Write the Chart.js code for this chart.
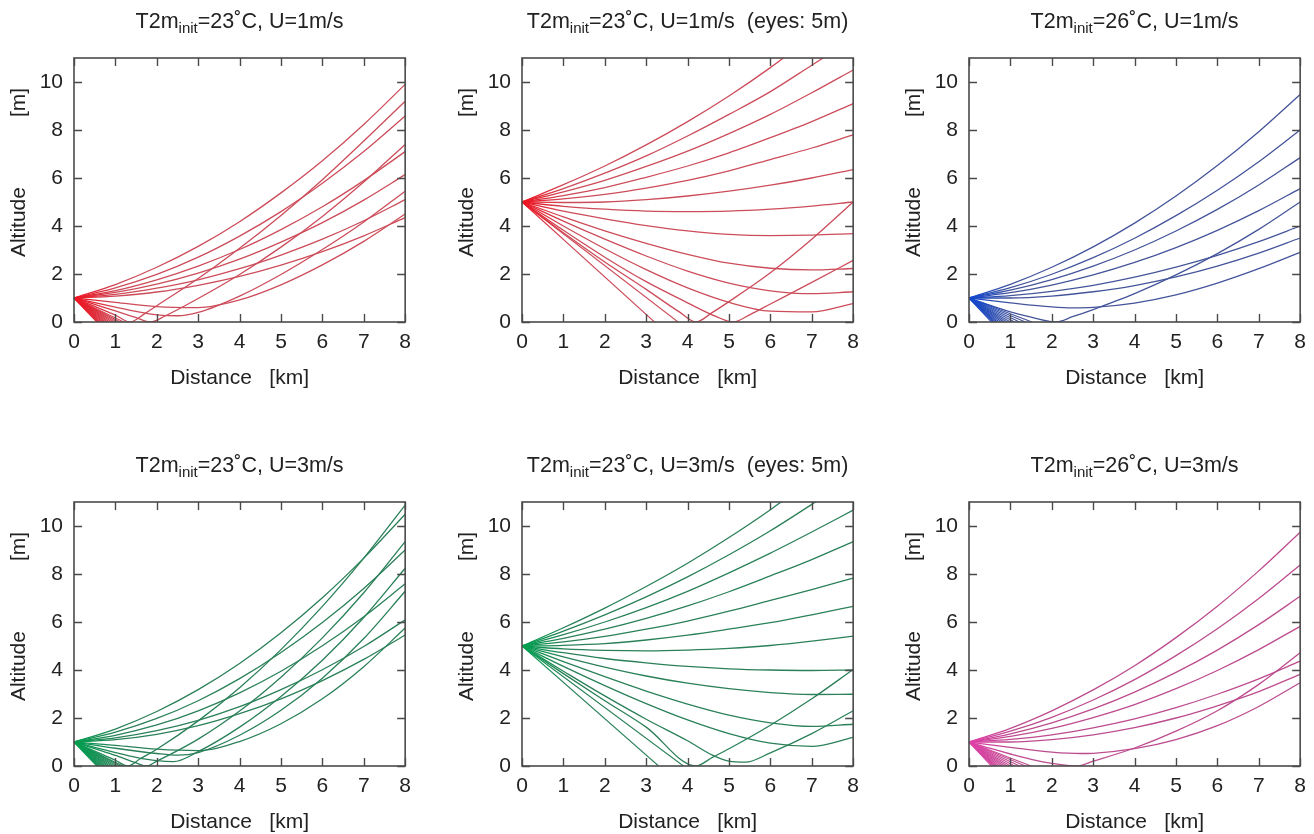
<!DOCTYPE html>
<html>
<head>
<meta charset="utf-8">
<script src="https://cdn.jsdelivr.net/npm/chart.js@4.4.1/dist/chart.umd.min.js"></script>
<style>
  html, body { margin: 0; padding: 0; background: #fff; overflow: hidden; }
  body { width: 1314px; height: 834px; position: relative; }
  canvas { position: absolute; }
</style>
</head>
<body>
<canvas id="p1" width="419" height="392" style="left:0px;top:0px"></canvas>
<canvas id="p2" width="419" height="392" style="left:448px;top:0px"></canvas>
<canvas id="p3" width="419" height="392" style="left:895px;top:0px"></canvas>
<canvas id="p4" width="419" height="392" style="left:0px;top:444px"></canvas>
<canvas id="p5" width="419" height="392" style="left:448px;top:444px"></canvas>
<canvas id="p6" width="419" height="392" style="left:895px;top:444px"></canvas>
<script>
// axis ticks
const xTicks = [0, 1, 2, 3, 4, 5, 6, 7, 8];
const yTicks = [0, 2, 4, 6, 8, 10];

// panel titles: "T2m" + subscript "init" + rest
const titleRest = [
  '=23˚C, U=1m/s',
  '=23˚C, U=1m/s  (eyes: 5m)',
  '=26˚C, U=1m/s',
  '=23˚C, U=3m/s',
  '=23˚C, U=3m/s  (eyes: 5m)',
  '=26˚C, U=3m/s',
];

// eye height of each panel [m]
const eyeHeights = [1, 5, 1, 1, 5, 1];

// rays as [distance km, altitude m]
const rays1 = [
  [[0,1],[1,1.56],[2,2.28],[3,3.15],[4,4.18],[5,5.38],[6,6.72],[7,8.23],[8,9.9]],
  [[0,1],[1,1.42],[2,1.98],[3,2.7],[4,3.58],[5,4.6],[6,5.78],[7,7.1],[8,8.58]],
  [[0,1],[1,1.31],[2,1.76],[3,2.33],[4,3.02],[5,3.85],[6,4.8],[7,5.89],[8,7.1]],
  [[0,1],[1,1.23],[2,1.58],[3,2.04],[4,2.62],[5,3.33],[6,4.14],[7,5.08],[8,6.14]],
  [[0,1],[1,1.15],[2,1.41],[3,1.76],[4,2.22],[5,2.79],[6,3.45],[7,4.22],[8,5.1]],
  [[0,1],[1,1.08],[2,1.25],[3,1.53],[4,1.9],[5,2.37],[6,2.93],[7,3.59],[8,4.35]],
  [[0,1],[1,0.82],[2,0.64],[3,0.6],[4,0.92],[5,1.55],[6,2.38],[7,3.36],[8,4.5]],
  [[0,1],[1,0.62],[1.5,0.44],[2,0.3],[2.5,0.26],[3,0.4],[4,1.08],[5,1.98],[6,3.02],[7,4.17],[8,5.45]],
  [[0,1],[0.5,0.73],[1,0.46],[1.5,0.18],[1.85,0],[2.2,0.25],[3,0.98],[4,1.98],[5,3.12],[6,4.4],[7,5.83],[8,7.4]],
  [[0,1],[0.5,0.65],[1,0.29],[1.35,0],[1.7,0.34],[2,0.68],[3,1.81],[4,3.07],[5,4.44],[6,5.93],[7,7.54],[8,9.2]],
];
const ground1 = [0.55, 0.58, 0.61, 0.64, 0.68, 0.72, 0.76, 0.81, 0.86, 0.92, 0.98, 1.05, 1.12, 1.2];

const rays2 = [
  [[0,5],[1,5.72],[2,6.5],[3,7.38],[4,8.35],[5,9.42],[6,10.6],[7,11.9]],
  [[0,5],[1,5.56],[2,6.2],[3,6.92],[4,7.75],[5,8.65],[6,9.6],[7,10.7],[8,11.8]],
  [[0,5],[1,5.42],[2,5.9],[3,6.48],[4,7.12],[5,7.85],[6,8.65],[7,9.55],[8,10.5]],
  [[0,5],[1,5.27],[2,5.6],[3,6.03],[4,6.5],[5,7.05],[6,7.68],[7,8.35],[8,9.1]],
  [[0,5],[1,5.13],[2,5.32],[3,5.58],[4,5.9],[5,6.3],[6,6.77],[7,7.25],[8,7.8]],
  [[0,5],[1,4.98],[2,5.0],[3,5.1],[4,5.25],[5,5.45],[6,5.7],[7,6.0],[8,6.35]],
  [[0,5],[1,4.82],[2,4.7],[3,4.62],[4,4.6],[5,4.62],[6,4.7],[7,4.83],[8,5.0]],
  [[0,5],[1,4.62],[2,4.3],[3,4.02],[4,3.8],[5,3.65],[6,3.6],[7,3.62],[8,3.68]],
  [[0,5],[1,4.38],[2,3.8],[3,3.28],[4,2.82],[5,2.45],[6,2.24],[7,2.17],[8,2.23]],
  [[0,5],[1,4.2],[2,3.45],[3,2.75],[4,2.12],[5,1.62],[6,1.3],[7,1.18],[8,1.26]],
  [[0,5],[1,4.0],[2,3.05],[3,2.18],[4,1.42],[5,0.82],[6,0.45],[7,0.42],[8,0.77]],
  [[0,5],[1,3.82],[2,2.7],[3,1.68],[4,0.8],[4.7,0.22],[5.1,0],[5.5,0.3],[6,0.75],[7,1.65],[8,2.57]],
  [[0,5],[1,3.72],[2,2.5],[3,1.36],[3.8,0.42],[4.2,0],[4.6,0.4],[5,0.85],[6,2.05],[7,3.45],[8,5.0]],
];
const ground2 = [3.2, 3.77];

const rays3 = [
  [[0,1],[1,1.57],[2,2.28],[3,3.13],[4,4.12],[5,5.25],[6,6.52],[7,7.93],[8,9.48]],
  [[0,1],[1,1.43],[2,1.99],[3,2.68],[4,3.49],[5,4.43],[6,5.49],[7,6.68],[8,8.0]],
  [[0,1],[1,1.33],[2,1.77],[3,2.33],[4,3.0],[5,3.79],[6,4.69],[7,5.71],[8,6.85]],
  [[0,1],[1,1.22],[2,1.54],[3,1.96],[4,2.48],[5,3.1],[6,3.82],[7,4.64],[8,5.56]],
  [[0,1],[1,1.1],[2,1.28],[3,1.53],[4,1.87],[5,2.29],[6,2.78],[7,3.35],[8,4.0]],
  [[0,1],[1,1.0],[2,1.08],[3,1.26],[4,1.52],[5,1.88],[6,2.33],[7,2.87],[8,3.5]],
  [[0,1],[1,0.8],[2,0.63],[2.5,0.59],[3,0.61],[4,0.79],[5,1.13],[6,1.62],[7,2.22],[8,2.9]],
  [[0,1],[0.5,0.7],[1,0.42],[1.5,0.2],[2.1,0],[2.5,0.22],[3,0.52],[4,1.18],[5,1.96],[6,2.85],[7,3.86],[8,5.0]],
];
const ground3 = [0.54, 0.57, 0.6, 0.64, 0.68, 0.73, 0.79, 0.85, 0.92, 1.0, 1.1, 1.22, 1.36, 1.52];

const rays4 = [
  [[0,1],[1,1.54],[2,2.27],[3,3.18],[4,4.27],[5,5.55],[6,7.01],[7,8.66],[8,10.49]],
  [[0,1],[1,1.41],[2,1.98],[3,2.72],[4,3.64],[5,4.73],[6,5.98],[7,7.4],[8,9.0]],
  [[0,1],[1,1.28],[2,1.71],[3,2.3],[4,3.05],[5,3.95],[6,5.01],[7,6.22],[8,7.59]],
  [[0,1],[1,1.17],[2,1.47],[3,1.9],[4,2.47],[5,3.18],[6,4.01],[7,4.98],[8,6.09]],
  [[0,1],[1,1.1],[2,1.32],[3,1.68],[4,2.18],[5,2.8],[6,3.56],[7,4.44],[8,5.46]],
  [[0,1],[1,0.86],[2,0.7],[3,0.64],[4,1.02],[5,1.76],[6,2.8],[7,4.14],[8,5.75]],
  [[0,1],[1,0.74],[2,0.52],[2.5,0.45],[3,0.56],[4,1.28],[5,2.32],[6,3.66],[7,5.31],[8,7.28]],
  [[0,1],[0.5,0.78],[1,0.56],[1.5,0.36],[2,0.22],[2.4,0.18],[3,0.6],[4,1.62],[5,2.9],[6,4.41],[7,6.19],[8,8.24]],
  [[0,1],[0.5,0.72],[1,0.44],[1.5,0.13],[1.75,0],[2,0.2],[3,1.12],[4,2.29],[5,3.7],[6,5.34],[7,7.22],[8,9.35]],
  [[0,1],[0.5,0.62],[1,0.24],[1.3,0],[1.6,0.3],[2,0.7],[3,1.88],[4,3.26],[5,4.85],[6,6.65],[7,8.66],[8,10.87]],
];
const ground4 = [0.55, 0.58, 0.61, 0.64, 0.68, 0.72, 0.76, 0.81, 0.86, 0.92, 0.98, 1.05, 1.12, 1.18];

const rays5 = [
  [[0,5],[1,5.76],[2,6.58],[3,7.48],[4,8.45],[5,9.52],[6,10.68],[7,11.95]],
  [[0,5],[1,5.62],[2,6.3],[3,7.05],[4,7.88],[5,8.8],[6,9.8],[7,10.9],[8,12.05]],
  [[0,5],[1,5.47],[2,6.0],[3,6.6],[4,7.28],[5,8.05],[6,8.87],[7,9.75],[8,10.66]],
  [[0,5],[1,5.32],[2,5.7],[3,6.15],[4,6.67],[5,7.26],[6,7.92],[7,8.6],[8,9.35]],
  [[0,5],[1,5.17],[2,5.4],[3,5.7],[4,6.04],[5,6.45],[6,6.9],[7,7.35],[8,7.83]],
  [[0,5],[1,5.03],[2,5.1],[3,5.25],[4,5.45],[5,5.7],[6,5.97],[7,6.3],[8,6.65]],
  [[0,5],[1,4.88],[2,4.82],[3,4.8],[4,4.83],[5,4.9],[6,5.02],[7,5.2],[8,5.41]],
  [[0,5],[1,4.72],[2,4.48],[3,4.3],[4,4.15],[5,4.05],[6,4.0],[7,3.98],[8,4.0]],
  [[0,5],[1,4.55],[2,4.12],[3,3.75],[4,3.45],[5,3.22],[6,3.06],[7,2.98],[8,2.99]],
  [[0,5],[1,4.35],[2,3.72],[3,3.12],[4,2.58],[5,2.12],[6,1.8],[7,1.65],[8,1.74]],
  [[0,5],[1,4.15],[2,3.35],[3,2.6],[4,1.92],[5,1.35],[6,0.95],[7,0.82],[8,1.19]],
  [[0,5],[1,3.95],[2,2.92],[3,1.95],[4,1.05],[4.6,0.45],[5,0.2],[5.4,0.16],[6,0.55],[7,1.35],[8,2.3]],
  [[0,5],[1,3.85],[2,2.72],[3,1.62],[4.2,0],[4.6,0.36],[5,0.72],[6,1.7],[7,2.8],[8,4.02]],
];
const ground5 = [3.3, 3.9];

const rays6 = [
  [[0,1],[1,1.57],[2,2.3],[3,3.17],[4,4.18],[5,5.35],[6,6.66],[7,8.13],[8,9.74]],
  [[0,1],[1,1.45],[2,2.03],[3,2.75],[4,3.6],[5,4.6],[6,5.72],[7,6.98],[8,8.38]],
  [[0,1],[1,1.34],[2,1.8],[3,2.38],[4,3.08],[5,3.9],[6,4.83],[7,5.89],[8,7.07]],
  [[0,1],[1,1.23],[2,1.57],[3,2.02],[4,2.56],[5,3.22],[6,3.98],[7,4.85],[8,5.82]],
  [[0,1],[1,1.11],[2,1.3],[3,1.59],[4,1.96],[5,2.43],[6,2.99],[7,3.63],[8,4.37]],
  [[0,1],[1,1.0],[2,1.1],[3,1.3],[4,1.6],[5,2.0],[6,2.51],[7,3.1],[8,3.82]],
  [[0,1],[1,0.78],[2,0.58],[2.7,0.52],[3,0.53],[4,0.72],[5,1.1],[6,1.68],[7,2.48],[8,3.47]],
  [[0,1],[0.5,0.74],[1,0.5],[1.5,0.28],[2,0.11],[2.6,0],[3,0.2],[4,0.75],[5,1.45],[6,2.3],[7,3.4],[8,4.72]],
];
const ground6 = [0.54, 0.57, 0.6, 0.64, 0.68, 0.73, 0.79, 0.85, 0.92, 1.0, 1.1, 1.22, 1.36, 1.5];

// colours near the eye and further out
const nearColors = ['#f0101e', '#f0101e', '#1046d0', '#00a050', '#00a050', '#e040a8'];
const farColors  = ['#cc4c5a', '#cc4c5a', '#44549a', '#2a8058', '#2a8058', '#bc4c8e'];

const allRays = [rays1, rays2, rays3, rays4, rays5, rays6];
const allGround = [ground1, ground2, ground3, ground4, ground5, ground6];

const FONT = 'Liberation Sans, Arial, sans-serif';
const TEXT = '#222';
const FRAME = '#4a4a4a';

// gnuplot style frame with inward ticks on all four sides, plus the subscripted title
const framePlugin = {
    id: 'frame',
    afterDraw(chart, args, opts) {
        const { ctx, chartArea: a, scales } = chart;
        const len = 8;
        ctx.save();
        ctx.strokeStyle = FRAME;
        ctx.lineWidth = 1.6;
        ctx.strokeRect(a.left, a.top, a.right - a.left, a.bottom - a.top);
        ctx.lineWidth = 1.4;
        ctx.beginPath();
        xTicks.forEach(v => {
            const px = Math.round(scales.x.getPixelForValue(v)) + 0.5;
            ctx.moveTo(px, a.bottom); ctx.lineTo(px, a.bottom - len);
            ctx.moveTo(px, a.top); ctx.lineTo(px, a.top + len);
        });
        yTicks.forEach(v => {
            const py = Math.round(scales.y.getPixelForValue(v)) + 0.5;
            ctx.moveTo(a.left, py); ctx.lineTo(a.left + len, py);
            ctx.moveTo(a.right, py); ctx.lineTo(a.right - len, py);
        });
        ctx.stroke();

        // title with subscript
        const big = `21.5px ${FONT}`;
        const small = `15px ${FONT}`;
        ctx.fillStyle = TEXT;
        ctx.textBaseline = 'alphabetic';
        ctx.textAlign = 'left';
        ctx.font = big;
        const w1 = ctx.measureText('T2m').width;
        const w3 = ctx.measureText(opts.rest).width;
        ctx.font = small;
        const w2 = ctx.measureText('init').width;
        let x = (a.left + a.right) / 2 - (w1 + w2 + w3) / 2;
        const y = a.top - 30;
        ctx.font = big;
        ctx.fillText('T2m', x, y);
        x += w1;
        ctx.font = small;
        ctx.fillText('init', x, y + 5);
        x += w2;
        ctx.font = big;
        ctx.fillText(opts.rest, x, y);
        ctx.restore();
    }
};

function rayColor(near, far) {
    return (context) => {
        const { chart } = context;
        const a = chart.chartArea;
        if (!a) return far;
        const g = chart.ctx.createLinearGradient(a.left, 0, a.left + 45, 0);
        g.addColorStop(0, near);
        g.addColorStop(1, far);
        return g;
    };
}

function buildDatasets(i) {
    const color = rayColor(nearColors[i], farColors[i]);
    const h0 = eyeHeights[i];
    const sets = [];
    allGround[i].forEach(xg => {
        sets.push({ data: [{ x: 0, y: h0 }, { x: xg, y: 0 }], borderWidth: 1.1 });
    });
    allRays[i].forEach(ray => {
        sets.push({ data: ray.map(([x, y]) => ({ x, y })), borderWidth: 1.3 });
    });
    return sets.map(s => ({
        ...s,
        borderColor: color,
        pointRadius: 0,
        fill: false,
        cubicInterpolationMode: 'monotone',
    }));
}

function makePanel(i) {
    const canvas = document.getElementById(`p${i + 1}`);
    return new Chart(canvas, {
        type: 'line',
        data: { datasets: buildDatasets(i) },
        plugins: [framePlugin],
        options: {
            responsive: false,
            animation: false,
            devicePixelRatio: 1,
            layout: { padding: { top: 58, right: 10, bottom: 0, left: 0 } },
            plugins: {
                legend: { display: false },
                tooltip: { enabled: false },
                frame: { rest: titleRest[i] },
            },
            scales: {
                x: {
                    type: 'linear',
                    min: 0,
                    max: 8,
                    afterBuildTicks: s => { s.ticks = xTicks.map(v => ({ value: v })); },
                    afterFit: s => { s.height = 70; },
                    grid: { display: false, drawTicks: false },
                    border: { display: false },
                    ticks: { color: TEXT, font: { family: FONT, size: 21 }, padding: 8, maxRotation: 0 },
                    title: {
                        display: true,
                        text: 'Distance   [km]',
                        color: TEXT,
                        font: { family: FONT, size: 21 },
                        padding: { top: 0, bottom: 1.5 },
                    },
                },
                y: {
                    min: 0,
                    max: 11,
                    afterBuildTicks: s => { s.ticks = yTicks.map(v => ({ value: v })); },
                    afterFit: s => { s.width = 74; },
                    grid: { display: false, drawTicks: false },
                    border: { display: false },
                    ticks: { color: TEXT, font: { family: FONT, size: 21 }, padding: 11 },
                    title: {
                        display: true,
                        text: '      Altitude            [m]',
                        color: TEXT,
                        font: { family: FONT, size: 21 },
                        padding: { top: 7, bottom: 0 },
                    },
                },
            },
        },
    });
}

for (let i = 0; i < 6; i++) makePanel(i);
</script>
</body>
</html>
